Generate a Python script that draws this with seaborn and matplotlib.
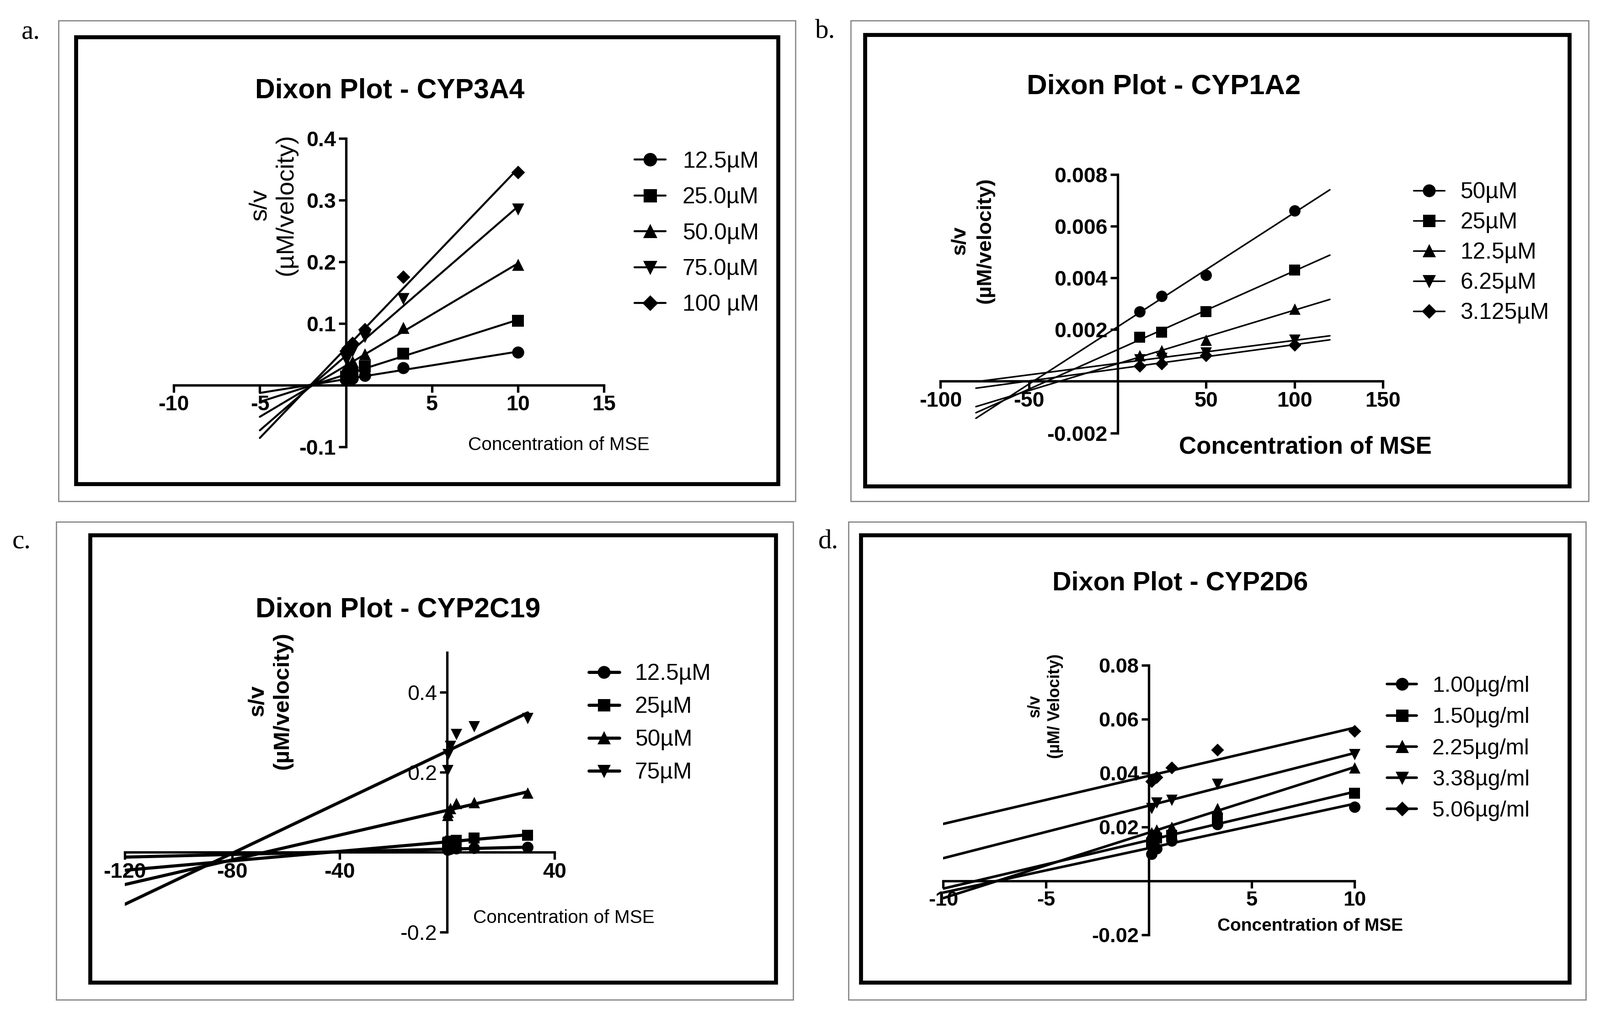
import numpy as np
import pandas as pd
import matplotlib
matplotlib.use("Agg")
import matplotlib.pyplot as plt
from matplotlib.lines import Line2D
from matplotlib.patches import Rectangle
import seaborn as sns

sns.set_theme(style="ticks", rc={"axes.edgecolor": "black", "xtick.color": "black",
                                 "ytick.color": "black", "text.color": "black"})
plt.rcParams["font.family"] = ["Liberation Sans", "DejaVu Sans"]
plt.rcParams["axes.unicode_minus"] = False

# a. CYP3A4
a_conc = [0, 0.123, 0.37, 1.11, 3.33, 10]
a_names = ["12.5µM", "25.0µM", "50.0µM", "75.0µM", "100 µM"]
a_s125 = [0.008, 0.009, 0.011, 0.015, 0.028, 0.053]
a_s250 = [0.014, 0.016, 0.020, 0.030, 0.051, 0.104]
a_s500 = [0.028, 0.032, 0.038, 0.050, 0.093, 0.195]
a_s750 = [0.042, 0.046, 0.055, 0.078, 0.140, 0.285]
a_s1000 = [0.055, 0.060, 0.068, 0.090, 0.175, 0.345]
a_xticks = [-10, -5, 5, 10, 15]
a_yticks = [-0.1, 0.1, 0.2, 0.3, 0.4]
a_yticklabels = ["-0.1", "0.1", "0.2", "0.3", "0.4"]

# b. CYP1A2
b_conc = [12.5, 25, 50, 100]
b_names = ["50µM", "25µM", "12.5µM", "6.25µM", "3.125µM"]
b_s50 = [0.0027, 0.0033, 0.0041, 0.0066]
b_s25 = [0.0017, 0.0019, 0.0027, 0.0043]
b_s125 = [0.0010, 0.0012, 0.0016, 0.0028]
b_s625 = [0.00084, 0.0009, 0.0011, 0.0016]
b_s3125 = [0.0006, 0.00068, 0.0010, 0.0014]
b_xticks = [-100, -50, 50, 100, 150]
b_yticks = [-0.002, 0.002, 0.004, 0.006, 0.008]
b_yticklabels = ["-0.002", "0.002", "0.004", "0.006", "0.008"]

# c. CYP2C19
c_conc = [0.123, 0.37, 1.11, 3.33, 10, 30]
c_names = ["12.5µM", "25µM", "50µM", "75µM"]
c_s125 = [0.006, 0.007, 0.008, 0.009, 0.010, 0.012]
c_s25 = [0.022, 0.025, 0.027, 0.029, 0.035, 0.042]
c_s50 = [0.092, 0.100, 0.110, 0.122, 0.125, 0.148]
c_s75 = [0.205, 0.245, 0.265, 0.295, 0.315, 0.335]
c_xticks = [-120, -80, -40, 40]
c_yticks = [-0.2, 0.2, 0.4]
c_yticklabels = ["-0.2", "0.2", "0.4"]

# d. CYP2D6
d_conc = [0.123, 0.37, 1.11, 3.33, 10]
d_names = ["1.00µg/ml", "1.50µg/ml", "2.25µg/ml", "3.38µg/ml", "5.06µg/ml"]
d_s100 = [0.010, 0.012, 0.015, 0.021, 0.0275]
d_s150 = [0.014, 0.016, 0.017, 0.023, 0.0325]
d_s225 = [0.018, 0.019, 0.020, 0.027, 0.042]
d_s338 = [0.027, 0.029, 0.030, 0.036, 0.047]
d_s506 = [0.037, 0.0385, 0.042, 0.0487, 0.0556]
d_xticks = [-10, -5, 5, 10]
d_yticks = [-0.02, 0.02, 0.04, 0.06, 0.08]
d_yticklabels = ["-0.02", "0.02", "0.04", "0.06", "0.08"]

# layout is worked out on a 1563 x 990 grid, 1 unit = 0.01 inch at dpi 224
W, H = 1563.0, 990.0
def fx(px):
    return px / W
def fy(py):
    return 1 - py / H

MARKERS = ["o", "s", "^", "v", "D"]

fig = plt.figure(figsize=(3500 / 224, 2217 / 224), dpi=224)


def dixon(box, conc, series, names, fit_range, xlim, ylim, xticks, yticks, yticklabels,
          lw=1.4, ms=8, tick_fs=15, xbold=True, ybold=True):
    x0, y0, x1, y1 = box
    ax = fig.add_axes([fx(x0), fy(y1), fx(x1) - fx(x0), fy(y0) - fy(y1)])
    ax.patch.set_alpha(0)
    df = pd.DataFrame({"conc": np.tile(conc, len(series)),
                       "sv": np.concatenate(series),
                       "name": np.repeat(names, len(conc))})
    handles = []
    for name, m in zip(names, MARKERS):
        sub = df[df["name"] == name]
        # regplot extends the fit over the current x limits
        ax.set_xlim(*fit_range)
        sns.regplot(data=sub, x="conc", y="sv", ax=ax, scatter=False, ci=None,
                    truncate=False, color="black", line_kws={"lw": lw})
        size = ms * (0.8 if m == "D" else 1.0)
        sns.scatterplot(data=sub, x="conc", y="sv", ax=ax, marker=m, s=size ** 2,
                        color="black", edgecolor="black", linewidth=0, legend=False,
                        clip_on=False, zorder=3)
        handles.append(Line2D([], [], color="black", lw=lw, marker=m, ms=size))
    ax.set_xlim(*xlim)
    ax.set_ylim(*ylim)
    ax.set_xlabel("")
    ax.set_ylabel("")
    ax.spines["top"].set_visible(False)
    ax.spines["right"].set_visible(False)
    ax.spines["left"].set_position(("data", 0))
    ax.spines["bottom"].set_position(("data", 0))
    for s in ["left", "bottom"]:
        ax.spines[s].set_linewidth(1.7)
        ax.spines[s].set_color("black")
    ax.set_xticks(xticks)
    ax.set_xticklabels([str(t) for t in xticks], fontsize=tick_fs,
                       fontweight="bold" if xbold else "normal")
    ax.set_yticks(yticks)
    ax.set_yticklabels(yticklabels, fontsize=tick_fs,
                       fontweight="bold" if ybold else "normal")
    ax.tick_params(direction="out", length=5, width=1.7, pad=2, color="black")
    return ax, handles


def legend(ax, handles, names, left, cy, fs, ls, htp):
    ax.legend(handles=handles, labels=names, loc="center left",
              bbox_to_anchor=(fx(left), fy(cy)), bbox_transform=fig.transFigure,
              frameon=False, borderpad=0, borderaxespad=0, handlelength=1.35,
              handletextpad=htp, labelspacing=ls, prop={"size": fs})


# a
ax_a, h_a = dixon((169.8, 135.1, 590, 436.6), a_conc,
                  [a_s125, a_s250, a_s500, a_s750, a_s1000], a_names, (-5, 10),
                  (-10, 15), (-0.1, 0.4), a_xticks, a_yticks, a_yticklabels, lw=1.4, ms=8.5)
legend(ax_a, h_a, a_names, 620, 228, 16, 0.65, 0.75)

# b
ax_b, h_b = dixon((918.8, 170.4, 1351, 423.2), b_conc,
                  [b_s50, b_s25, b_s125, b_s625, b_s3125], b_names, (-80, 120),
                  (-100, 150), (-0.002, 0.008), b_xticks, b_yticks, b_yticklabels, lw=1.1, ms=8)
legend(ax_b, h_b, b_names, 1381, 247, 16, 0.40, 0.7)

# c
ax_c, h_c = dixon((121.9, 637.6, 541.7, 910.8), c_conc,
                  [c_s125, c_s25, c_s50, c_s75], c_names, (-120, 30),
                  (-120, 40), (-0.2, 0.5), c_xticks, c_yticks, c_yticklabels,
                  lw=2.2, ms=8, ybold=False)
legend(ax_c, h_c, c_names, 575, 707, 16, 0.52, 0.68)

# d
ax_d, h_d = dixon((921.5, 650.3, 1323.3, 913.6), d_conc,
                  [d_s100, d_s150, d_s225, d_s338, d_s506], d_names, (-10, 10),
                  (-10, 10), (-0.02, 0.08), d_xticks, d_yticks, d_yticklabels,
                  lw=1.8, ms=8, tick_fs=14.5)
legend(ax_d, h_d, d_names, 1355, 731.5, 15.5, 0.48, 0.7)

# titles
fig.text(fx(381), fy(89), "Dixon Plot - CYP3A4", ha="center", va="center", fontsize=19.5, fontweight="bold")
fig.text(fx(1137), fy(85), "Dixon Plot - CYP1A2", ha="center", va="center", fontsize=19.8, fontweight="bold")
fig.text(fx(389), fy(596), "Dixon Plot - CYP2C19", ha="center", va="center", fontsize=19.5, fontweight="bold")
fig.text(fx(1153), fy(570), "Dixon Plot - CYP2D6", ha="center", va="center", fontsize=18.5, fontweight="bold")

# y labels
fig.text(fx(266.5), fy(200), "s/v\n(µM/velocity)", ha="center", va="center", rotation=90,
         multialignment="center", fontsize=17.5, linespacing=1.2)
fig.text(fx(950), fy(235), "s/v\n(µM/velocity)", ha="center", va="center", rotation=90,
         multialignment="center", fontsize=14.6, fontweight="bold", linespacing=1.45)
fig.text(fx(264), fy(685), "s/v\n(µM/velocity)", ha="center", va="center", rotation=90,
         multialignment="center", fontsize=15.9, fontweight="bold", linespacing=1.27)
fig.text(fx(1021), fy(690), "s/v\n(µM/ Velocity)", ha="center", va="center", rotation=90,
         multialignment="center", fontsize=11.5, fontweight="bold", linespacing=1.38)

# x labels
fig.text(fx(546), fy(435), "Concentration of MSE", ha="center", va="center", fontsize=13)
fig.text(fx(1275), fy(437), "Concentration of MSE", ha="center", va="center", fontsize=17, fontweight="bold")
fig.text(fx(551), fy(897), "Concentration of MSE", ha="center", va="center", fontsize=13)
fig.text(fx(1280), fy(905), "Concentration of MSE", ha="center", va="center", fontsize=12.5, fontweight="bold")

# panel letters
for lab, x, y in [("a.", 30, 32), ("b.", 806, 31), ("c.", 21, 530), ("d.", 809, 530)]:
    fig.text(fx(x), fy(y), lab, ha="center", va="center", fontsize=19,
             family=["Liberation Serif", "DejaVu Serif"])

# frames: thin grey outer box, heavy black inner box
outer = [(57, 20, 777, 490), (831, 20, 1552, 490), (55, 510, 775, 977), (829, 510, 1549, 977)]
inner = [(74, 36, 760, 473), (845, 34, 1533, 475), (88, 523, 758, 960), (841, 523, 1533, 960)]
for (x0, y0, x1, y1) in outer:
    fig.add_artist(Rectangle((fx(x0), fy(y1)), fx(x1) - fx(x0), fy(y0) - fy(y1),
                             transform=fig.transFigure, fill=False, lw=0.9, ec="#8a8a8a"))
for (x0, y0, x1, y1) in inner:
    fig.add_artist(Rectangle((fx(x0), fy(y1)), fx(x1) - fx(x0), fy(y0) - fy(y1),
                             transform=fig.transFigure, fill=False, lw=2.8, ec="black"))

fig.savefig("out.png", dpi=224)
